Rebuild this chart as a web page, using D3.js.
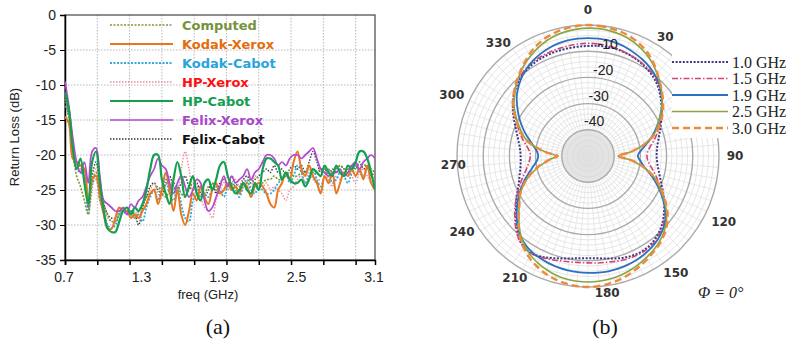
<!DOCTYPE html>
<html><head><meta charset="utf-8">
<script src="https://cdn.jsdelivr.net/npm/d3@7"></script>
<style>body{margin:0;background:#fff} svg{display:block}</style>
</head><body><svg id="c" width="787" height="343"></svg>
<script>
// ---------- Panel (a) data ----------
const freq = [0.70,0.73,0.76,0.79,0.82,0.85,0.88,0.91,0.94,0.97,
1.00,1.03,1.06,1.09,1.12,1.15,1.18,1.21,1.24,1.27,
1.30,1.33,1.36,1.39,1.42,1.45,1.48,1.51,1.54,1.57,
1.60,1.63,1.66,1.69,1.72,1.75,1.78,1.81,1.84,1.87,
1.90,1.93,1.96,1.99,2.02,2.05,2.08,2.11,2.14,2.17,
2.20,2.23,2.26,2.29,2.32,2.35,2.38,2.41,2.44,2.47,
2.50,2.53,2.56,2.59,2.62,2.65,2.68,2.71,2.74,2.77,
2.80,2.83,2.86,2.89,2.92,2.95,2.98,3.01,3.04,3.07,
3.10];
const computed = [-11,-15,-19.5,-23,-24.5,-26.5,-28.5,-24,-22.5,-25,
-27,-28.5,-29.5,-29.5,-28.5,-27.5,-28,-28.5,-29,-28,
-27,-26,-25.5,-25,-24.5,-25.5,-26,-25,-24,-24.5,
-25.5,-26,-25,-24,-25,-26,-25.5,-24.5,-24,-25,
-25.5,-25,-24.5,-24,-24.5,-25,-24.5,-24,-23.5,-24,
-24.5,-24,-23.5,-23.5,-23,-23.5,-23.5,-23,-22.5,-23,
-23,-22.5,-22.5,-22,-22.5,-22.5,-22,-22,-22,-22.5,
-22,-21.5,-22,-22,-21.5,-21.5,-22,-21.5,-21.5,-22,
-22.5];
const kodakXerox = [-14.5,-15.5,-20.5,-21,-21.5,-22,-27,-23.5,-23,-26,
-28.5,-30.5,-30.5,-29,-27.5,-28,-28,-29,-28.5,-29,
-28,-27,-25.5,-25,-27,-25,-22.5,-25,-28,-25,
-28.5,-30,-28,-25.5,-26.5,-24.5,-26,-27,-25,-24,
-25.5,-25,-24,-25,-24.5,-25.5,-24,-24.5,-26,-24.5,
-24,-24.5,-25.5,-27,-27.5,-25,-24,-22.5,-23.5,-21,
-19.5,-22,-23,-21.5,-23,-24,-25.5,-23,-24,-22.5,
-25.5,-24,-22.5,-23,-22,-23,-22,-23.5,-21.5,-24,
-25];
const kodakCabot = [-13,-14,-19,-22,-22.5,-23,-28,-24,-23.5,-26.5,
-28,-30,-30.5,-30,-28.5,-28,-28.5,-28,-29,-28.5,
-29.5,-27.5,-26,-25,-26.5,-24.5,-23.5,-25.5,-26.5,-24.5,
-27,-29,-29.5,-26.5,-25.5,-24.5,-25.5,-26,-25,-24.5,
-25,-26,-24.5,-24,-25,-26,-24.5,-23.5,-25,-25.5,
-24.5,-25,-25.5,-25.5,-25,-24,-23.5,-22.5,-24,-23,
-21.5,-22.5,-24,-23,-22,-23.5,-24.5,-23,-22,-24,
-23.5,-22.5,-23,-24,-22.5,-21.5,-22.5,-23,-22,-23,
-23.5];
const hpXerox = [-12,-14,-18.5,-21.5,-22,-23,-28.5,-25,-22,-25,
-27.5,-29,-29.5,-29,-28,-27.5,-28,-28.5,-28,-29,
-27,-26,-25,-24,-25.5,-26,-24.5,-23.5,-24,-25,
-22,-19.5,-22,-25,-24.5,-26,-27.5,-28,-29,-26.5,
-25,-24,-25,-24,-23.5,-24.5,-23.5,-24,-24.5,-23,
-23.5,-24.5,-24,-25,-24.5,-25,-25.5,-26.5,-25,-24.5,
-23.5,-23,-24,-22.5,-23.5,-24,-23,-22,-23.5,-24.5,
-23,-23.5,-22.5,-22,-23,-24,-22.5,-22,-23,-24,
-24.5];
const hpCabot = [-11,-13.5,-19,-22,-20.5,-24,-27,-21,-19.5,-24,
-28,-30.5,-31,-31,-29.5,-28,-27.5,-28.5,-27.5,-28,
-27,-25,-22,-20,-20,-23.5,-25.5,-27,-23.5,-21,
-23,-26,-24.5,-23,-25.5,-26.5,-24,-23.5,-25,-23.5,
-21.5,-21,-23,-24.5,-25.5,-25,-24,-25,-25.5,-24,
-25,-22,-20.5,-20.5,-21,-21.5,-23.5,-22.5,-23.5,-24,
-24,-23.5,-24.5,-23.5,-22,-22.5,-23,-21.5,-22.5,-23,
-21.5,-22.5,-23,-21.5,-22,-21,-19.5,-19.5,-20.5,-22.5,
-25];
const felixXerox = [-9.5,-13,-17.5,-21,-22.5,-21,-24,-19.5,-19,-23,
-26.5,-27,-27.5,-28,-28,-27.5,-28.5,-27,-27.5,-26.5,
-26,-24.5,-23,-22,-20.5,-21.5,-22,-24,-25.5,-24,
-23,-24.5,-26,-25,-23.5,-24,-26.5,-28,-27.5,-26,
-24.5,-23,-24.5,-23,-24,-23.5,-23,-22,-23.5,-22.5,
-22,-21,-20,-20,-20.5,-21.5,-21,-21.5,-20.5,-20,
-20,-20.5,-20,-19.5,-19,-20.5,-22,-22.5,-23,-22.5,
-22.5,-22,-23,-22.5,-21.5,-21,-22,-21,-20.5,-20,
-20.5];
const felixCabot = [-12,-14.5,-19,-22,-21.5,-23,-27.5,-23,-21,-24.5,
-27,-28.5,-29,-29,-28,-28,-28.5,-28,-28.5,-30,
-27.5,-26,-24.5,-24,-25,-25.5,-24,-23,-24.5,-25,
-24,-23,-24.5,-25,-24,-25.5,-26,-25,-24,-25.5,
-24,-23.5,-24.5,-23,-24,-24.5,-23.5,-23,-24,-23.5,
-23,-22.5,-22,-22.5,-21.5,-22.5,-22,-23,-22,-21.5,
-22,-21.5,-22.5,-21,-19.5,-21,-22.5,-22,-23,-22,
-22.5,-21.5,-22,-22.5,-21.5,-22,-21,-22,-21.5,-22.5,
-23];
const seriesNamesA = ["Computed","Kodak-Xerox","Kodak-Cabot","HP-Xerox","HP-Cabot","Felix-Xerox","Felix-Cabot"];
const yTicksA = [-35,-30,-25,-20,-15,-10,-5,0];
const xGridA = [0.95,1.2,1.45,1.7,1.95,2.2,2.45,2.7,2.95];
const xLabelsA = [0.7,1.3,1.9,2.5,3.1];

// ---------- Panel (b) data ----------
const angles = [0,5,10,15,20,25,30,35,40,45,50,55,60,65,70,75,80,85,
90,95,100,105,110,115,120,125,130,135,140,145,150,155,160,165,170,175,
180,185,190,195,200,205,210,215,220,225,230,235,240,245,250,255,260,265,
270,275,280,285,290,295,300,305,310,315,320,325,330,335,340,345,350,355];
const g10 = [-8,-7.8,-7.7,-7.8,-8.1,-8.6,-9.2,-10,-11,-12.3,-14,-15.8,-17.5,-19.2,-20.7,-22,-23,-23.6,
-23.8,-23.5,-22.8,-21.7,-20.3,-18.5,-16.5,-14.5,-12.5,-10.8,-9.5,-8.6,-8.2,-8.3,-8.8,-9.5,-10.3,-10.8,
-11,-10.8,-10.3,-9.5,-8.6,-7.6,-7,-7.5,-9,-11.5,-14,-16.5,-18.5,-20.5,-22,-23,-23.8,-24.2,
-24.3,-24,-23.3,-22.2,-20.8,-19,-17,-15,-13.2,-11.7,-10.5,-9.6,-9,-8.6,-8.4,-8.3,-8.2,-8.1];
const g15 = [-7,-7,-7.2,-7.5,-8,-8.5,-9,-9.6,-10.5,-11.8,-13.5,-15.5,-17.5,-19.5,-21.5,-23.5,-25.5,-27,
-27.5,-27,-25.5,-23.5,-21.5,-19,-16.5,-14,-12,-10.3,-9,-8.2,-7.8,-7.8,-8,-8.4,-8.8,-9,
-9.2,-9.2,-9,-8.6,-8,-7.4,-7,-7.5,-8.8,-11,-13.5,-16,-18.5,-21,-23,-25,-26.5,-27.5,
-28,-27.5,-26,-24,-22,-20,-17.5,-15,-13,-11.3,-10,-9,-8.4,-8,-7.7,-7.5,-7.3,-7.1];
const g19 = [-5,-5,-5.2,-5.6,-6.2,-7,-7.8,-8.8,-10,-11.5,-13.5,-15.5,-18,-20.5,-23,-25.5,-28,-30,
-31,-30,-28.5,-26,-23,-20,-17,-14,-11.5,-9.8,-8.5,-7.5,-6.8,-6.2,-5.8,-5.5,-5.3,-5.3,
-5.4,-5.5,-5.7,-6,-6.4,-6.9,-7.5,-8.5,-10,-12,-14.5,-17,-19.5,-22,-24.5,-27,-29,-30.5,
-31,-30.5,-29,-27,-24.5,-22,-19.5,-17,-14.5,-12.5,-10.7,-9.2,-8,-7,-6.2,-5.6,-5.2,-5];
const g25 = [-1.2,-1.2,-1.5,-2,-2.8,-3.9,-5.3,-7,-9,-11,-13.2,-15.5,-18,-20.5,-22.5,-25.5,-29.5,-34,
-38.5,-34,-29.5,-25.5,-22,-19.5,-16.5,-13.5,-11,-9,-7.5,-6.3,-5.3,-4.4,-3.5,-2.8,-2.3,-2,
-1.9,-2,-2.3,-2.9,-3.8,-4.9,-6.2,-8,-10.2,-12.8,-15.5,-18,-20,-22.5,-25.5,-29,-32.5,-35.5,
-38,-34,-29.5,-25.5,-23,-20.5,-18,-15.5,-13.5,-11.3,-9.4,-7.6,-6,-4.6,-3.3,-2.4,-1.8,-1.4];
const g30 = [0,-0.2,-0.5,-1,-1.8,-3,-4.5,-6.5,-8.8,-11,-13,-15,-17,-19.5,-22,-25.5,-29.5,-34,
-38.5,-34,-29.5,-25.5,-22,-19,-16,-13,-10.5,-8.5,-7,-5.8,-4.6,-3.5,-2.4,-1.4,-0.7,-0.2,
0,-0.2,-0.6,-1.3,-2.3,-3.6,-5.2,-7.2,-9.5,-12.5,-15.5,-18,-20,-22.5,-25.5,-28.5,-32,-35.5,
-38.5,-34,-29.5,-25,-22.5,-20,-17.5,-15,-13,-11,-9.2,-7.2,-5.2,-3.5,-2.2,-1.3,-0.6,-0.2];
const seriesNamesB = ["1.0 GHz","1.5 GHz","1.9 GHz","2.5 GHz","3.0 GHz"];
const ringTicksB = [-40,-30,-20,-10,0];
const angleLabelsB = [0,30,60,90,120,150,180,210,240,270,300,330];

// ---------- Drawing ----------
const svg = d3.select("#c");
const sans = "'Liberation Sans', Arial, sans-serif";
const serif = "'Liberation Serif', 'Times New Roman', serif";

// Panel (a)
const x = d3.scaleLinear().domain([0.7,3.1]).range([65,375]);
const y = d3.scaleLinear().domain([-35,0]).range([260,15]);
const gA = svg.append("g");
gA.append("defs").append("clipPath").attr("id","clipA").append("rect")
  .attr("x",x(0.7)).attr("y",y(0)).attr("width",x(3.1)-x(0.7)).attr("height",y(-35)-y(0));
gA.selectAll("line.vg").data(xGridA).join("line")
  .attr("x1",d=>x(d)).attr("x2",d=>x(d)).attr("y1",y(0)).attr("y2",y(-35))
  .attr("stroke","#b8b8b8").attr("stroke-dasharray","1.5,1.5").attr("stroke-width",1);
gA.selectAll("line.hg").data(yTicksA.filter(d=>d>-35&&d<0)).join("line")
  .attr("x1",x(0.7)).attr("x2",x(3.1)).attr("y1",d=>y(d)).attr("y2",d=>y(d))
  .attr("stroke","#b8b8b8").attr("stroke-dasharray","1.5,1.5").attr("stroke-width",1);
gA.append("rect").attr("x",x(0.7)).attr("y",y(0)).attr("width",x(3.1)-x(0.7)).attr("height",y(-35)-y(0))
  .attr("fill","none").attr("stroke","#444").attr("stroke-width",1.2);

const yAx = gA.append("g").attr("transform",`translate(${x(0.7)},0)`)
  .call(d3.axisLeft(y).tickValues(yTicksA).tickSize(5).tickFormat(d=>String(d)));
yAx.select(".domain").attr("stroke","#000").attr("stroke-width",1.5);
yAx.selectAll("text").attr("font-family",sans).attr("font-size",14).attr("fill","#222").attr("dx",-1);
const xAx = gA.append("g").attr("transform",`translate(0,${y(-35)})`)
  .call(d3.axisBottom(x).tickValues([0.7].concat(xGridA)).tickSize(5).tickFormat(""));
xAx.select(".domain").attr("stroke","#000").attr("stroke-width",1.5);
xAx.selectAll("line").attr("stroke-width",1.5);
gA.selectAll("text.xl").data(xLabelsA).join("text")
  .attr("x",d=>x(d)-1).attr("y",282).attr("text-anchor","middle")
  .attr("font-family",sans).attr("font-size",14).attr("fill","#222").text(d=>d.toFixed(1));
gA.append("text").attr("x",208).attr("y",299).attr("text-anchor","middle")
  .attr("font-family",sans).attr("font-size",13).attr("fill","#222").text("freq (GHz)");
gA.append("text").attr("transform","translate(19,137) rotate(-90)").attr("text-anchor","middle")
  .attr("font-family",sans).attr("font-size",13).attr("fill","#222").text("Return Loss (dB)");

const styleA = {
  "Computed":   {data:computed,  color:"#7a9a35", dash:"2,1.5", w:1.6, text:"#76923c"},
  "Kodak-Xerox":{data:kodakXerox,color:"#e8771e", dash:null,    w:2,   text:"#e46c0a"},
  "Kodak-Cabot":{data:kodakCabot,color:"#35a8de", dash:"2,1.5", w:1.8, text:"#2aa3db"},
  "HP-Xerox":   {data:hpXerox,   color:"#ee8a95", dash:"1.5,1.5", w:1.4, text:"#ff1010"},
  "HP-Cabot":   {data:hpCabot,   color:"#13a050", dash:null,    w:2.2, text:"#10a050"},
  "Felix-Xerox":{data:felixXerox,color:"#b24ad0", dash:null,    w:1.7, text:"#a847c8"},
  "Felix-Cabot":{data:felixCabot,color:"#3a3a3a", dash:"1.5,1.5", w:1.4, text:"#111"}
};
const lineA = d3.line().x(d=>x(d[0])).y(d=>y(d[1])).curve(d3.curveCatmullRom.alpha(0.5));
const drawOrder = ["Felix-Cabot","HP-Xerox","Kodak-Cabot","Computed","Kodak-Xerox","Felix-Xerox","HP-Cabot"];
const plotA = gA.append("g").attr("clip-path","url(#clipA)");
drawOrder.forEach(n=>{
  const s = styleA[n];
  const pts = freq.map((f,i)=>[f,s.data[i]]).filter(p=>p[1]!==undefined);
  plotA.append("path").attr("d",lineA(pts)).attr("fill","none").attr("stroke",s.color)
    .attr("stroke-width",s.w).attr("stroke-dasharray",s.dash).attr("stroke-linejoin","round");
});
const legA = gA.append("g");
seriesNamesA.forEach((n,i)=>{
  const s = styleA[n], yy = 25 + i*19;
  legA.append("line").attr("x1",110).attr("x2",173).attr("y1",yy).attr("y2",yy)
    .attr("stroke",s.color).attr("stroke-width",s.w).attr("stroke-dasharray",s.dash);
  legA.append("text").attr("x",182).attr("y",yy+5).attr("font-family","'DejaVu Sans', Verdana, sans-serif")
    .attr("font-size",13).attr("font-weight",n==="HP-Xerox"||n==="Felix-Cabot"?"bold":"600")
    .attr("fill",s.text).text(n);
});
svg.append("text").attr("x",218).attr("y",334).attr("text-anchor","middle")
  .attr("font-family",serif).attr("font-size",22).attr("fill","#111").text("(a)");

// Panel (b)
const cx = 588, cy = 156;
const r = d3.scaleLinear().domain([-50,0]).range([0,131]);
const gB = svg.append("g").attr("transform",`translate(${cx},${cy})`);
gB.append("circle").attr("r",r(0)).attr("fill","#fff");
gB.append("circle").attr("r",r(-40)).attr("fill","#e6e6e6");
const minorRings = d3.range(-48,0,2).filter(v=>v%10!==0);
gB.selectAll("circle.mr").data(minorRings).join("circle").attr("r",d=>r(d))
  .attr("fill","none").attr("stroke",d=>d<-40?"#d4d4d4":"#e0e0e0").attr("stroke-width",0.8);
const spokes = d3.range(0,360,5);
gB.selectAll("line.sp").data(spokes).join("line")
  .attr("x1",0).attr("y1",0)
  .attr("x2",d=>r(0)*Math.sin(d*Math.PI/180)).attr("y2",d=>-r(0)*Math.cos(d*Math.PI/180))
  .attr("stroke","#e0e0e0").attr("stroke-width",0.7);
gB.selectAll("circle.mj").data(ringTicksB).join("circle").attr("r",d=>r(d))
  .attr("fill","none").attr("stroke","#aaaaaa").attr("stroke-width",1.4);
// angle labels (placement follows the reference's label ring, which sits a little off-centre)
const labShift = {30:3,120:-4,150:-7,180:-8,210:1,240:-1,270:-4,300:-6,330:-8.5};
const labRad = {0:146,30:142,60:146,90:147,120:151,150:146,180:138,210:142,240:147,270:135,300:149,330:144};
gB.selectAll("text.al").data(angleLabelsB).join("text")
  .attr("x",d=>{const a=(d+(labShift[d]||0))*Math.PI/180; return labRad[d]*Math.sin(a);})
  .attr("y",d=>{const a=(d+(labShift[d]||0))*Math.PI/180; return -labRad[d]*Math.cos(a);})
  .attr("text-anchor","middle").attr("dominant-baseline","central")
  .attr("font-family","'DejaVu Sans', Verdana, sans-serif").attr("font-size",12).attr("font-weight","bold")
  .attr("fill","#333").text(d=>d);

const rl = d3.lineRadial().angle(d=>d[0]*Math.PI/180).radius(d=>r(d[1])).curve(d3.curveCatmullRomClosed.alpha(0.5));
const styleB = {
  "1.0 GHz":{data:g10,color:"#3c3888",dash:"2,1.6",w:2},
  "1.5 GHz":{data:g15,color:"#d3466f",dash:"6,2,1.5,2",w:1.6},
  "1.9 GHz":{data:g19,color:"#2b70c2",dash:null,w:1.8},
  "2.5 GHz":{data:g25,color:"#8aa544",dash:null,w:1.6},
  "3.0 GHz":{data:g30,color:"#ee8a3c",dash:"7,4",w:2.4}
};
seriesNamesB.forEach(n=>{
  const s = styleB[n];
  const pts = angles.map((a,i)=>[a,s.data[i]]);
  gB.append("path").attr("d",rl(pts)).attr("fill","none").attr("stroke",s.color)
    .attr("stroke-width",s.w).attr("stroke-dasharray",s.dash);
});
gB.selectAll("text.rl").data(ringTicksB.filter(d=>d<0)).join("text")
  .attr("x",d=>(r(d)+9)*Math.sin(10*Math.PI/180)).attr("y",d=>-(r(d)+9)*Math.cos(10*Math.PI/180))
  .attr("text-anchor","middle").attr("dominant-baseline","central")
  .attr("font-family",sans).attr("font-size",14).attr("fill","#222").text(d=>String(d));

// legend (b) with white background covering grid
svg.append("rect").attr("x",672).attr("y",52).attr("width",115).attr("height",86).attr("fill","#fff");
seriesNamesB.forEach((n,i)=>{
  const s = styleB[n], yy = 62 + i*16.5;
  svg.append("line").attr("x1",672).attr("x2",728).attr("y1",yy).attr("y2",yy)
    .attr("stroke",s.color).attr("stroke-width",s.w).attr("stroke-dasharray",s.dash);
  svg.append("text").attr("x",732).attr("y",yy+5.5).attr("font-family",serif).attr("font-size",16)
    .attr("fill","#222").text(n);
});
svg.append("text").attr("x",698).attr("y",298).attr("font-family",serif).attr("font-size",16)
  .attr("font-style","italic").attr("fill","#222").text("Φ = 0°");
svg.append("text").attr("x",605).attr("y",334).attr("text-anchor","middle")
  .attr("font-family",serif).attr("font-size",22).attr("fill","#111").text("(b)");
</script></body></html>
